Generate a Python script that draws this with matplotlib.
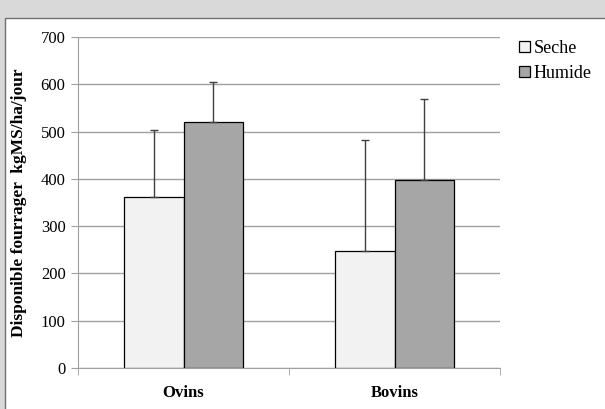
import numpy as np
import matplotlib.pyplot as plt
from matplotlib.patches import Rectangle

categories = ["Ovins", "Bovins"]
seche = [362, 247]
humide = [520, 397]
seche_err = [141, 236]
humide_err = [84, 171]
series_names = ["Seche", "Humide"]
yticks = [0, 100, 200, 300, 400, 500, 600, 700]

plt.rcParams['font.family'] = ['Liberation Serif', 'DejaVu Serif']

fig = plt.figure(figsize=(6.05, 4.09), dpi=100)
fig.patch.set_facecolor('#d9d9d9')

# white panel with a thin border, as in the source screenshot
panel = Rectangle((5 / 605, -0.05), 1.2, 1 - 18 / 409 + 0.05, transform=fig.transFigure,
                  facecolor='white', edgecolor='#707070', linewidth=1.0, zorder=-1)
fig.patches.append(panel)

ax = fig.add_axes([78 / 605, 41 / 409, 422 / 605, 331 / 409])
ax.set_facecolor('none')
ax.set_zorder(1)

x = np.arange(len(categories))
w = 0.284
err_kw = dict(ecolor='#404040', elinewidth=1.0, capsize=3, capthick=1.0)
ax.bar(x - w / 2, seche, w, color='#f2f2f2', edgecolor='black', linewidth=0.9,
       yerr=[np.zeros(len(seche)), seche_err], error_kw=err_kw, label=series_names[0], zorder=3)
ax.bar(x + w / 2, humide, w, color='#a6a6a6', edgecolor='black', linewidth=0.9,
       yerr=[np.zeros(len(humide)), humide_err], error_kw=err_kw, label=series_names[1], zorder=3)

ax.set_xlim(-0.5, len(categories) - 0.5)
ax.set_ylim(0, 700)
ax.set_yticks(yticks)
ax.yaxis.grid(True, color='#a0a0a0', linewidth=1.0, zorder=0)
ax.set_axisbelow(True)

for s in ['top', 'right']:
    ax.spines[s].set_visible(False)
ax.spines['left'].set_color('#a0a0a0')
ax.spines['bottom'].set_color('#a0a0a0')

ax.set_xticks(x)
ax.set_xticklabels(categories, fontweight='bold', fontsize=12)
ax.tick_params(axis='x', length=0, pad=12)
# ticks at category boundaries
ax.set_xticks([-0.5, 0.5, 1.5], minor=True)
ax.tick_params(axis='x', which='minor', length=5, color='#a0a0a0', direction='out')
ax.tick_params(axis='y', length=5, color='#a0a0a0', labelsize=12, pad=4)

ax.set_ylabel("Disponible fourrager  kgMS/ha/jour", fontweight='bold', fontsize=12.5, labelpad=10)

ax.legend(loc='upper left', bbox_to_anchor=(519 / 605, 1 - 40 / 409), bbox_transform=fig.transFigure,
          frameon=False, fontsize=13, handlelength=0.6, handleheight=0.6, handletextpad=0.2,
          labelspacing=0.45, borderaxespad=0, borderpad=0)

plt.savefig("out.png", dpi=100)
